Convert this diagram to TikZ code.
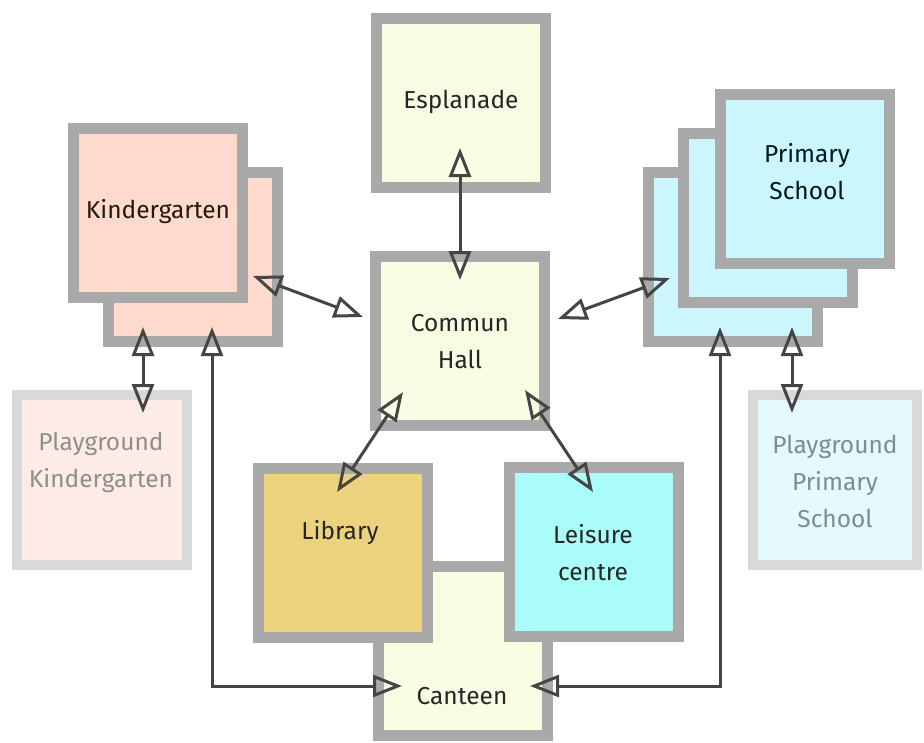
\documentclass[tikz,border=0pt]{standalone}
\usepackage{fontspec}
\setmainfont{Fira Sans}
\usetikzlibrary{arrows.meta}
\definecolor{bord}{HTML}{A9A9A9}
\definecolor{lbord}{HTML}{D9D9D9}
\definecolor{yel}{HTML}{F6FDE2}
\definecolor{peach}{HTML}{FDDACB}
\definecolor{lpeach}{HTML}{FDECE5}
\definecolor{cyanl}{HTML}{CCF6FD}
\definecolor{lcyan}{HTML}{E4FAFD}
\definecolor{gold}{HTML}{EDD27E}
\definecolor{aqua}{HTML}{A9FCF8}
\definecolor{arr}{HTML}{454545}
\definecolor{txtc}{HTML}{262626}
\definecolor{ltxt}{HTML}{8E8E8E}
\definecolor{ltxtb}{HTML}{7F8C8E}
\begin{document}
\begin{tikzpicture}[x=1pt,y=-1pt,
  box/.style={draw=bord, line width=11pt, minimum width=169pt, minimum height=169pt, inner sep=0pt},
  lbox/.style={draw=lbord, line width=10pt, minimum width=170pt, minimum height=170pt, inner sep=0pt},
  txt/.style={font=\fontsize{24.5}{37}\selectfont, text=txtc, align=center, inner sep=0pt},
  ltxt/.style={txt, text=ltxt},
  bi/.style={draw=arr, line width=3pt, {Triangle[open, length=29pt, width=22pt]}-{Triangle[open, length=29pt, width=22pt]}}]
\useasboundingbox (0,0) rectangle (924,742);
% boxes
\node[box, fill=yel] (esp) at (461,103) {};
\node[box, fill=yel] (hall) at (460,341) {};
\node[box, fill=peach] (kgb) at (193,257) {};
\node[box, fill=peach] (kg) at (157.5,213) {};
\node[box, fill=cyanl] (ps3) at (733,257) {};
\node[box, fill=cyanl] (ps2) at (768,218) {};
\node[box, fill=cyanl] (ps) at (805,178.5) {};
\node[lbox, fill=lpeach] (pk) at (101.5,480) {};
\node[lbox, fill=lcyan, minimum width=164pt] (pp) at (835,480) {};
\node[box, fill=yel] (can) at (463,651) {};
\node[box, fill=gold] (lib) at (342.5,553) {};
\node[box, fill=aqua] (lei) at (593.5,552) {};
% texts
\node[txt] (espt) at (461,102) {Esplanade};
\node[txt] (hallt) at (460,342) {Commun\\Hall};
\node[txt, text=black!80!brown] (kgt) at (158,212) {Kindergarten};
\node[txt, text=black!80!teal] (pst) at (807,172) {Primary\\School};
\node[ltxt] (pkt) at (101,462) {Playground\\Kindergarten};
\node[ltxt, text=ltxtb] (ppt) at (835,481) {Playground\\Primary\\School};
\node[txt] (libt) at (340,533) {Library};
\node[txt] (leit) at (593,553) {Leisure\\centre};
\node[txt] (cant) at (462,696) {Canteen};
% connector end points
\coordinate (espA) at (460,148);
\coordinate (hallA) at (460,280);
\coordinate (kgA) at (253,276);
\coordinate (hallB) at (363,317);
\coordinate (hallC) at (558,319);
\coordinate (psA) at (670,278);
\coordinate (hallD) at (403,392);
\coordinate (libA) at (337,492);
\coordinate (hallE) at (525,390);
\coordinate (leiA) at (593,492);
\coordinate (kgB) at (143,327);
\coordinate (pkA) at (143,413);
\coordinate (kgC) at (212,327);
\coordinate (canA) at (402,686);
\coordinate (psB) at (720,327);
\coordinate (canB) at (530,686);
\coordinate (psC) at (792,327);
\coordinate (ppA) at (792,413);
% connectors
\draw[bi] (espA) -- (hallA);
\draw[bi] (kgA) -- (hallB);
\draw[bi] (hallC) -- (psA);
\draw[bi] (hallD) -- (libA);
\draw[bi] (hallE) -- (leiA);
\draw[bi] (kgB) -- (pkA);
\draw[bi] (kgC) |- (canA);
\draw[bi] (psB) |- (canB);
\draw[bi] (psC) -- (ppA);
\end{tikzpicture}
\end{document}
